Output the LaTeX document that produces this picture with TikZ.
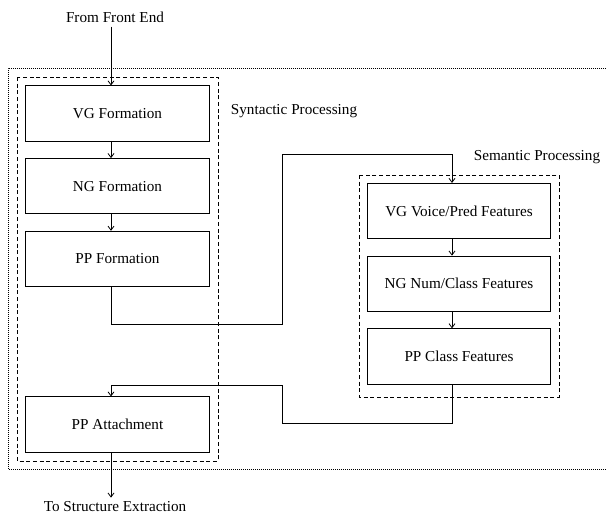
\documentclass[tikz,border=0pt]{standalone}
\usepackage{fontspec}
\setmainfont{Liberation Serif}
\usetikzlibrary{arrows.meta, positioning}
\tikzset{
    stage/.style={
        rectangle,
        draw=black,
        line width=0.6pt,
        inner sep=0pt,
        minimum width=137.5pt,
        minimum height=41.5pt,
        font=\fontsize{11.4}{13.7}\selectfont,
    },
    note/.style={
        inner sep=3pt,
        font=\fontsize{11.4}{13.7}\selectfont,
    },
    group/.style={
        draw=black,
        line width=0.6pt,
        dash pattern=on 3pt off 2pt,
    },
    outer/.style={
        draw=black,
        line width=0.5pt,
        dash pattern=on 0.6pt off 0.9pt,
    },
    flow/.style={
        ->,
        draw=black,
        line width=0.6pt,
    },
}

\begin{document}
\begin{tikzpicture}[x=0.75pt, y=-0.75pt, >={Straight Barb[length=3pt,width=4.5pt]},
    node distance=54.5pt, on grid]
      \useasboundingbox (0,0) rectangle (606,518);

      % columns the arrows run along
      \coordinate (lx) at (111,0);
      \coordinate (rx) at (452,0);

      % whole pipeline
      \draw[outer] (606,68) -| (8,469) -- (606,469);

      % syntactic stages
      \draw[group] (17,77) rectangle (218,461);
      \node[note] (syn) at (294,111) {Syntactic Processing};

      \node[stage] (vg) at (117.5,113.5) {VG Formation};
      \node[stage, below=of vg] (ng) {NG Formation};
      \node[stage, below=of ng] (pf) {PP Formation};
      \node[stage] (pa) at (117.5,424.5) {PP Attachment};

      % semantic stages
      \draw[group] (359,175) rectangle (559,397);
      \node[note] (sem) at (537,157) {Semantic Processing};

      \node[stage] (vp) at (459,211) {VG Voice/Pred Features};
      \node[stage, below=of vp] (nn) {NG Num/Class Features};
      \node[stage, below=of nn] (pc) {PP Class Features};

      % in and out
      \node[note] (src) at (115,17) {From Front End};
      \node[note] (dst) at (115,507) {To Structure Extraction};

      % bends of the two crossings
      \coordinate (goA) at (282,324);
      \coordinate (goB) at (452,154);
      \coordinate (backA) at (282,423);
      \coordinate (backB) at (111,385);

      \draw[flow] (src.south -| lx) -- (vg.north -| lx);
      \draw[flow] (vg.south -| lx) -- (ng.north -| lx);
      \draw[flow] (ng.south -| lx) -- (pf.north -| lx);
      \draw[flow] (pf.south -| lx) |- (goA) |- (goB) -- (vp.north -| rx);
      \draw[flow] (vp.south -| rx) -- (nn.north -| rx);
      \draw[flow] (nn.south -| rx) -- (pc.north -| rx);
      \draw[flow] (pc.south -| rx) |- (backA) |- (backB) -- (pa.north -| lx);
      \draw[flow] (pa.south -| lx) -- (dst.north -| lx);

    \end{tikzpicture}
\end{document}
